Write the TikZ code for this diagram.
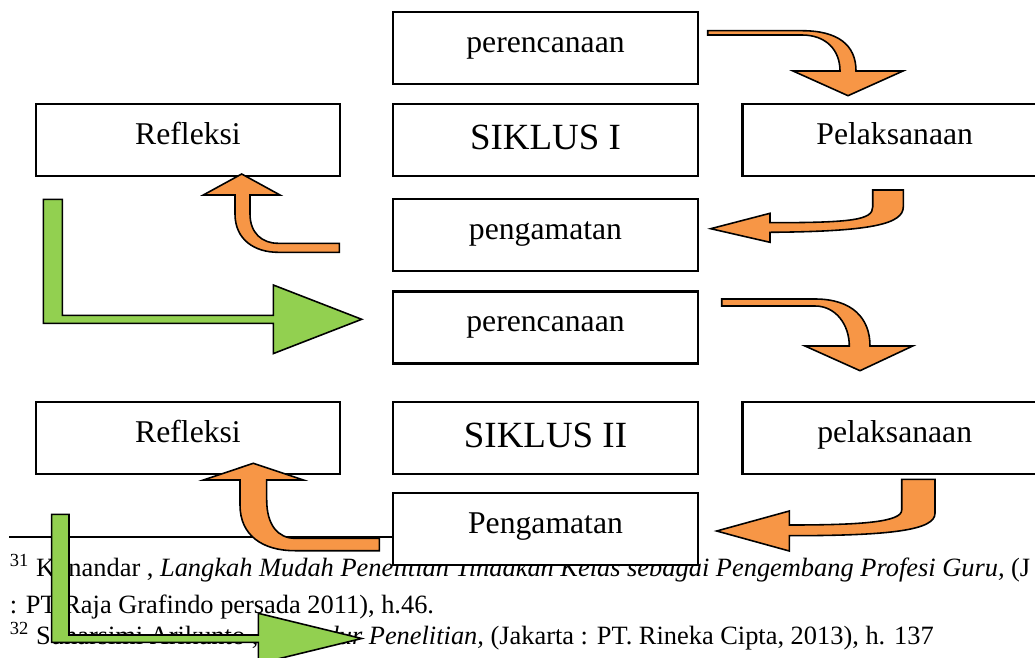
\documentclass[tikz,border=0pt]{standalone}
\usepackage{fontspec}
\setmainfont{Liberation Serif}
\definecolor{arrorange}{HTML}{F79646}
\definecolor{arrgreen}{HTML}{92D050}
\begin{document}
\begin{tikzpicture}[x=0.3788pt,y=-0.3788pt,
 box/.style={draw, line width=0.8pt, fill=white, inner sep=0pt,
   minimum width=304.4*0.3788pt, minimum height=72*0.3788pt,
   font=\fontsize{12}{14}\selectfont, text height=8.4pt, text depth=5pt},
 bigbox/.style={box, font=\fontsize{14}{16}\selectfont, text height=10pt, text depth=3pt},
 orangearrow/.style={draw=black, fill=arrorange, line width=0.6pt},
 greenarrow/.style={draw=black, fill=arrgreen, line width=0.6pt},
 foot/.style={anchor=base west, inner sep=0pt, font=\fontsize{10}{12}\selectfont},
 rule/.style={line width=0.7pt}]
\useasboundingbox (0,0) rectangle (1035,657);
\clip (0,0) rectangle (1035,657);

% footnote separator and footnotes
\coordinate (rl) at (9.3,536.7);
\coordinate (rr) at (480,536.7);
\draw[rule] (rl) -- (rr);
\node[foot] (f1) at (9.3,576) {\textsuperscript{31} Kunandar , \textit{Langkah Mudah Penelitian Tindakan Kelas sebagai Pengembang Profesi Guru,} (J};
\node[foot] (f2) at (9.3,613.3) {: PT Raja Grafindo persada 2011), h.46.};
\node[foot] (f3) at (9.3,644.3) {\textsuperscript{32} Suharsimi Arikunto , \textit{Prosedur Penelitian,} (Jakarta : PT. Rineka Cipta, 2013), h. 137};

% boxes
\node[box] (p1) at (545.5,48) {perencanaan};
\node[box] (r1) at (188,140) {Refleksi};
\node[bigbox] (s1) at (545.5,140) {SIKLUS I};
\node[box] (l1) at (894.7,140) {Pelaksanaan};
\node[box] (g1) at (545.5,235.3) {pengamatan};
\node[box] (p2) at (545.5,327.5) {perencanaan};
\node[box] (r2) at (188,438) {Refleksi};
\node[bigbox] (s2) at (545.5,438) {SIKLUS II};
\node[box] (l2) at (894.7,438) {pelaksanaan};
\node[box] (g2) at (545.5,529.2) {Pengamatan};

% A1: perencanaan -> Pelaksanaan
\draw[orangearrow] (707.7,30.7) -- (802,30.7) .. controls (838,30.7) and (856,45) .. (856,71)
  -- (903,71) -- (848,95.7) -- (793,71) -- (840,71)
  .. controls (840,50) and (826,35) .. (802,35) -- (707.7,35) -- cycle;

% A2: Pelaksanaan -> pengamatan
\draw[orangearrow] (872.7,190) -- (903.3,190) -- (903.3,206.7)
  .. controls (903.3,224) and (872,231.5) .. (770,232.3)
  -- (770,242.3) -- (710.7,228.7) -- (770,213.3) -- (770,222.7)
  .. controls (852,222.7) and (872.7,220) .. (872.7,207) -- cycle;

% A3: pengamatan -> Refleksi
\draw[orangearrow] (339.3,243.3) -- (278,243.3)
  .. controls (262,243.3) and (250,233) .. (250,214)
  -- (250,195) -- (280,195) -- (241.7,174) -- (203.3,195) -- (235,195) -- (235,214)
  .. controls (235,240) and (255,252.3) .. (278,252.3) -- (339.3,252.3) -- cycle;

% A4: green L arrow -> perencanaan II
\draw[greenarrow] (43.3,199.3) -- (62.3,199.3) -- (62.3,315.3) -- (273.3,315.3)
  -- (273.3,285) -- (361.7,319.3) -- (273.3,353.6) -- (273.3,323.3) -- (43.3,323.3) -- cycle;

% A5: perencanaan II -> pelaksanaan
\draw[orangearrow] (721.7,299) -- (815,299) .. controls (852,299) and (870,318) .. (870,346)
  -- (912.7,346) -- (860,370.7) -- (805,346) -- (849.3,346)
  .. controls (849.3,325) and (836,306) .. (815,306) -- (721.7,306) -- cycle;

% A6: pelaksanaan -> Pengamatan
\draw[orangearrow] (901.7,479.3) -- (935,479.3) -- (935,513.3)
  .. controls (935,530) and (892,535.7) .. (789.3,535.7)
  -- (789.3,551) -- (716.7,531) -- (789.3,511) -- (789.3,525)
  .. controls (862,525) and (901.7,522) .. (901.7,510) -- cycle;

% A7: Pengamatan -> Refleksi II
\draw[orangearrow] (379.3,538.3) -- (295,538.3)
  .. controls (278,538.3) and (266.7,525) .. (266.7,500)
  -- (266.7,480) -- (303.3,480) -- (253.3,463.3) -- (203.3,480) -- (240,480) -- (240,505)
  .. controls (240,535) and (262,550.7) .. (295,550.7) -- (379.3,550.7) -- cycle;

% A8: green L arrow bottom
\draw[greenarrow] (51.7,514.3) -- (69,514.3) -- (69,635) -- (258.3,635)
  -- (258.3,613.3) -- (361.7,638.5) -- (258.3,663.7) -- (258.3,642.3) -- (51.7,642.3) -- cycle;
\end{tikzpicture}
\end{document}
